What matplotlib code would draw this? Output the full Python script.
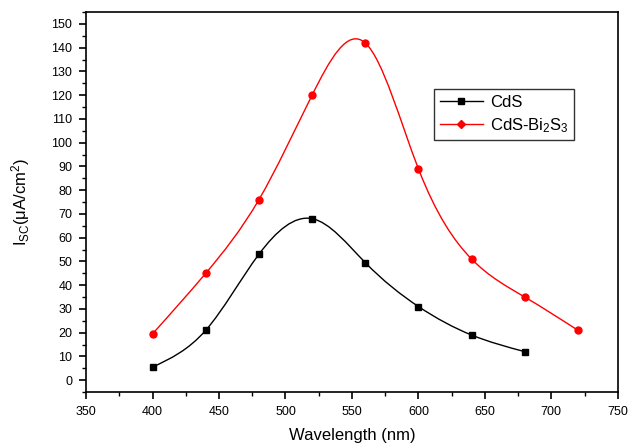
import numpy as np
import matplotlib.pyplot as plt
from matplotlib.path import Path
from matplotlib.patches import PathPatch
from matplotlib.lines import Line2D
from matplotlib.ticker import MultipleLocator

plt.rcParams['font.family'] = ['Liberation Sans', 'DejaVu Sans']
plt.rcParams['mathtext.fontset'] = 'custom'
plt.rcParams['mathtext.rm'] = 'Liberation Sans'
plt.rcParams['mathtext.it'] = 'Liberation Sans'

# 数据
wl_cds = [400, 440, 480, 520, 560, 600, 640, 680]
isc_cds = [5.5, 21, 53, 68, 49.5, 31, 19, 12]
wl_bi = [400, 440, 480, 520, 560, 600, 640, 680, 720]
isc_bi = [19.5, 45, 76, 120, 142, 89, 51, 35, 21]


def spline_path(x, y):
    """自然三次样条, 以 Bezier 段的形式交给 Path 绘制"""
    x = np.asarray(x, float)
    y = np.asarray(y, float)
    n = len(x)
    h = np.diff(x)
    A = np.zeros((n, n))
    b = np.zeros(n)
    A[0, 0] = A[-1, -1] = 1
    for i in range(1, n - 1):
        A[i, i - 1] = h[i - 1]
        A[i, i] = 2 * (h[i - 1] + h[i])
        A[i, i + 1] = h[i]
        b[i] = 6 * ((y[i + 1] - y[i]) / h[i] - (y[i] - y[i - 1]) / h[i - 1])
    M = np.linalg.solve(A, b)
    verts = [(x[0], y[0])]
    codes = [Path.MOVETO]
    for i in range(n - 1):
        s = (y[i + 1] - y[i]) / h[i]
        d0 = s - h[i] * (2 * M[i] + M[i + 1]) / 6
        d1 = s + h[i] * (M[i] + 2 * M[i + 1]) / 6
        verts += [(x[i] + h[i] / 3, y[i] + d0 * h[i] / 3),
                  (x[i + 1] - h[i] / 3, y[i + 1] - d1 * h[i] / 3),
                  (x[i + 1], y[i + 1])]
        codes += [Path.CURVE4] * 3
    return Path(verts, codes)


fig = plt.figure(figsize=(6.33, 4.47), dpi=100)
ax = fig.add_axes([0.136, 0.123, 0.840, 0.850])

for x, y, c, m, lab in [(wl_cds, isc_cds, 'black', 's', 'CdS'),
                        (wl_bi, isc_bi, 'red', 'o', 'CdS-Bi$_2$S$_3$')]:
    ax.add_patch(PathPatch(spline_path(x, y), facecolor='none', edgecolor=c, lw=1.0))
    ax.plot(x, y, color=c, marker=m, ms=5, lw=0, label=lab)

ax.set_xlim(350, 750)
ax.set_ylim(-5, 155)
ax.xaxis.set_major_locator(MultipleLocator(50))
ax.xaxis.set_minor_locator(MultipleLocator(25))
ax.yaxis.set_minor_locator(MultipleLocator(5))
ax.set_yticks(np.arange(0, 151, 10))
ax.tick_params(which='major', direction='out', length=5, width=1.2, labelsize=9, pad=5)
ax.tick_params(which='minor', direction='out', length=3, width=1.0)
for s in ax.spines.values():
    s.set_linewidth(1.2)

ax.set_xlabel('Wavelength (nm)', fontsize=12, labelpad=7)
ax.set_ylabel('I$_{SC}$(μA/cm$^2$)', fontsize=12, labelpad=14)

# 图例
handles = [Line2D([], [], color='black', marker='s', ms=5, lw=1),
           Line2D([], [], color='red', marker='D', ms=4.5, lw=1)]
leg = ax.legend(handles, ['CdS', 'CdS-Bi$_2$S$_3$'], loc='upper left',
                bbox_to_anchor=(0.654, 0.797), fontsize=12, frameon=True,
                fancybox=False, edgecolor='black', handlelength=2.6,
                borderpad=0.35, labelspacing=0.35, handletextpad=0.4,
                borderaxespad=0)
leg.get_frame().set_linewidth(1.0)

plt.savefig('out.png', dpi=100)
